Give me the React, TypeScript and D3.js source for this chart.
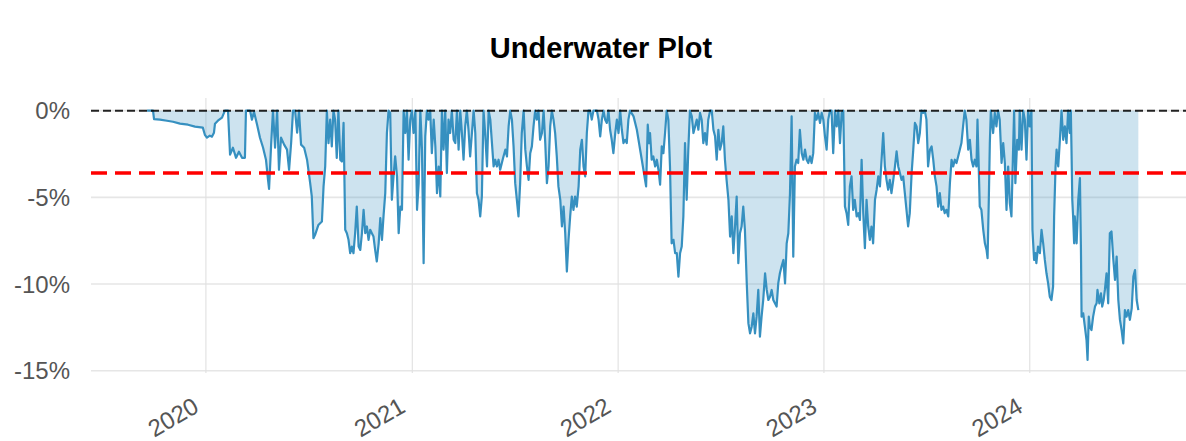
import React from "react";
import * as d3 from "d3";

// ---- data: drawdown (%) by decimal year ----
const dd2019: [number, number][] = [
  [2019.714, 0], [2019.743, 0], [2019.748, -0.49], [2019.777, -0.52], [2019.811, -0.58], [2019.840, -0.64],
  [2019.874, -0.75], [2019.913, -0.81], [2019.947, -0.92], [2019.985, -0.98], [2019.995, -1.39],
];
const dd2020: [number, number][] = [
  [2020.005, -1.56], [2020.019, -1.44], [2020.029, -1.5], [2020.039, -1.27], [2020.044, -0.75], [2020.058, -0.58],
  [2020.078, -0.4], [2020.092, 0], [2020.107, 0], [2020.117, -2.54], [2020.131, -2.14], [2020.146, -2.72],
  [2020.16, -2.37], [2020.175, -2.72], [2020.189, -2.72], [2020.194, 0], [2020.214, 0], [2020.223, -0.52],
  [2020.233, -0.06], [2020.248, -0.81], [2020.262, -1.56], [2020.277, -2.14], [2020.291, -2.83], [2020.301, -3.99],
  [2020.306, -4.51], [2020.316, -1.96], [2020.325, 0], [2020.335, -2.14], [2020.345, 0], [2020.354, -3.41],
  [2020.364, -1.56], [2020.379, -1.96], [2020.393, -2.25], [2020.403, -3.41], [2020.413, -1.85], [2020.422, 0],
  [2020.432, 0], [2020.442, -1.27], [2020.451, 0], [2020.461, -1.96], [2020.476, -2.14], [2020.49, -2.83],
  [2020.505, -4.16], [2020.513, -4.95], [2020.521, -7.36], [2020.529, -7.16], [2020.545, -6.59], [2020.562, -6.39],
  [2020.57, -4.37], [2020.578, -3.22], [2020.586, 0], [2020.594, -1.87], [2020.602, -0.52], [2020.61, -2.06],
  [2020.618, 0], [2020.626, -0.52], [2020.634, -2.73], [2020.642, 0], [2020.651, -2.83], [2020.659, -2.93],
  [2020.667, -0.71], [2020.675, -6.87], [2020.683, -7.07], [2020.691, -7.45], [2020.699, -8.22], [2020.707, -7.84],
  [2020.715, -8.22], [2020.723, -7.07], [2020.731, -5.53], [2020.74, -7.84], [2020.748, -8.03], [2020.756, -7.07],
  [2020.764, -5.72], [2020.772, -7.07], [2020.78, -6.68], [2020.788, -7.45], [2020.796, -6.87], [2020.804, -7.07],
  [2020.812, -7.26], [2020.82, -8.03], [2020.828, -8.7], [2020.837, -7.65], [2020.845, -6.2], [2020.853, -7.45],
  [2020.861, -6.01], [2020.869, -4.76], [2020.877, -1.29], [2020.885, 0], [2020.893, -0.13], [2020.901, -5.14],
  [2020.909, -3.79], [2020.917, -2.64], [2020.926, -3.79], [2020.934, -7.07], [2020.942, -5.53], [2020.95, -5.72],
  [2020.958, 0], [2020.966, -1.29], [2020.974, 0], [2020.982, -2.83], [2020.99, -0.52], [2020.998, 0],
];
const dd2021: [number, number][] = [
  [2021.006, -1.29], [2021.015, 0], [2021.023, -5.72], [2021.031, -4.18], [2021.039, 0], [2021.047, -2.25],
  [2021.055, -8.8], [2021.063, -1.48], [2021.071, 0], [2021.079, -0.52], [2021.087, 0], [2021.095, -2.45],
  [2021.104, -0.52], [2021.112, -2.06], [2021.12, -4.76], [2021.128, -3.22], [2021.136, -4.95], [2021.144, 0],
  [2021.152, -2.25], [2021.16, 0], [2021.168, -3.6], [2021.176, -0.52], [2021.184, -1.29], [2021.192, 0],
  [2021.201, -1.68], [2021.209, -1.87], [2021.217, 0], [2021.225, -2.25], [2021.233, 0], [2021.241, -1.29],
  [2021.249, -2.83], [2021.257, -0.91], [2021.265, 0], [2021.273, -1.1], [2021.281, -2.64], [2021.298, 0],
  [2021.306, -1.29], [2021.314, -4.76], [2021.322, -5.14], [2021.33, -6.1], [2021.338, -4.95], [2021.346, 0],
  [2021.354, -1.29], [2021.363, -3.22], [2021.371, 0], [2021.379, -0.52], [2021.387, -1.87], [2021.395, -3.22],
  [2021.403, -2.83], [2021.411, -3.22], [2021.419, -2.83], [2021.427, -3.41], [2021.435, -3.02], [2021.443, -2.64],
  [2021.452, -2.25], [2021.46, -2.64], [2021.468, -0.91], [2021.476, 0], [2021.484, -0.52], [2021.492, -2.06],
  [2021.5, -4.18], [2021.508, -5.14], [2021.516, -6.1], [2021.524, -4.18], [2021.532, -1.29], [2021.541, 0],
  [2021.549, -2.25], [2021.557, -3.22], [2021.565, -3.99], [2021.573, -2.45], [2021.581, -2.06], [2021.589, -0.91],
  [2021.597, 0], [2021.605, -0.52], [2021.613, 0], [2021.621, -1.68], [2021.63, -1.29], [2021.638, 0],
  [2021.646, -1.87], [2021.654, -4.18], [2021.662, -3.22], [2021.67, -0.91], [2021.678, 0], [2021.686, -0.52],
  [2021.694, -1.29], [2021.702, -2.64], [2021.71, -4.37], [2021.719, -5.14], [2021.727, -6.68], [2021.735, -5.53],
  [2021.743, -7.07], [2021.751, -9.28], [2021.759, -7.45], [2021.767, -6.1], [2021.775, -4.95], [2021.783, -5.72],
  [2021.791, -4.95], [2021.799, -5.53], [2021.808, -4.37], [2021.816, -2.25], [2021.824, -1.68], [2021.832, -3.22],
  [2021.84, -3.79], [2021.848, -1.29], [2021.856, 0], [2021.864, 0], [2021.872, -0.52], [2021.88, 0],
  [2021.897, 0], [2021.905, -0.52], [2021.913, -1.48], [2021.921, -0.52], [2021.929, 0], [2021.937, -0.52],
  [2021.945, -0.71], [2021.953, 0], [2021.961, -1.1], [2021.969, -1.68], [2021.977, -2.45], [2021.986, -1.29],
  [2021.994, -0.52],
];
const dd2022: [number, number][] = [
  [2022.002, -1.29], [2022.01, 0], [2022.018, -1.1], [2022.026, -1.87], [2022.034, -1.68], [2022.042, -1.87],
  [2022.05, -0.52], [2022.058, 0], [2022.075, -0.33], [2022.091, -1.1], [2022.099, -1.68], [2022.115, -2.83],
  [2022.128, -3.79], [2022.136, -4.37], [2022.144, -0.81], [2022.15, -1.87], [2022.155, -1.29], [2022.163, -2.83],
  [2022.171, -2.64], [2022.18, -3.22], [2022.188, -2.83], [2022.196, -3.41], [2022.204, -4.27], [2022.212, -2.06],
  [2022.22, -2.45], [2022.228, -1.29], [2022.236, 0], [2022.244, -0.52], [2022.252, -3.22], [2022.26, -7.65],
  [2022.269, -7.45], [2022.277, -8.22], [2022.285, -8.22], [2022.293, -9.57], [2022.301, -8.22], [2022.309, -7.84],
  [2022.317, -6.1], [2022.325, -1.87], [2022.333, -5.14], [2022.341, -2.25], [2022.349, 0], [2022.358, -0.33],
  [2022.366, -1.29], [2022.374, -0.91], [2022.382, -0.52], [2022.39, -1.1], [2022.398, -0.13], [2022.406, -0.52],
  [2022.414, -1.87], [2022.422, -1.29], [2022.43, -1.96], [2022.438, -0.52], [2022.447, 0], [2022.455, 0],
  [2022.463, -1.1], [2022.471, -1.48], [2022.479, -2.83], [2022.487, -1.1], [2022.495, -2.25], [2022.503, -1.87],
  [2022.511, -0.91], [2022.519, -2.83], [2022.527, -3.99], [2022.536, -5.14], [2022.544, -7.26], [2022.552, -6.1],
  [2022.56, -8.22], [2022.568, -6.68], [2022.576, -4.95], [2022.584, -8.8], [2022.592, -7.07], [2022.6, -6.68],
  [2022.608, -5.53], [2022.616, -6.87], [2022.625, -9.96], [2022.633, -12.27], [2022.641, -12.84], [2022.649, -12.46],
  [2022.657, -11.69], [2022.665, -12.84], [2022.673, -11.88], [2022.681, -10.34], [2022.689, -13.04], [2022.697, -11.88],
  [2022.705, -10.92], [2022.714, -9.38], [2022.722, -10.34], [2022.73, -10.92], [2022.738, -10.73], [2022.746, -10.34],
  [2022.754, -10.92], [2022.762, -11.11], [2022.77, -11.3], [2022.778, -9.96], [2022.786, -9.38], [2022.794, -8.99],
  [2022.803, -8.61], [2022.811, -9.96], [2022.819, -7.65], [2022.827, -7.07], [2022.835, -4.76], [2022.843, -0.33],
  [2022.851, -8.42], [2022.859, -3.22], [2022.867, -2.83], [2022.875, -3.02], [2022.883, -1.1], [2022.892, -2.45],
  [2022.9, -2.83], [2022.908, -2.25], [2022.916, -2.83], [2022.924, -3.02], [2022.932, -2.64], [2022.94, -3.02],
  [2022.948, -2.45], [2022.956, -0.13], [2022.964, -0.52], [2022.972, -0.13], [2022.981, -0.71], [2022.989, -0.13],
  [2022.997, -0.52],
];
const dd2023: [number, number][] = [
  [2023.005, -1.48], [2023.013, -2.25], [2023.021, -0.52], [2023.029, 0], [2023.037, 0], [2023.045, -2.45],
  [2023.054, 0], [2023.062, -0.91], [2023.07, 0], [2023.078, -1.87], [2023.086, -0.13], [2023.094, 0],
  [2023.102, -5.53], [2023.11, -5.91], [2023.118, -6.59], [2023.126, -4.37], [2023.134, -3.79], [2023.142, -5.72],
  [2023.15, -5.14], [2023.159, -6.1], [2023.167, -5.91], [2023.175, -6.3], [2023.183, -2.83], [2023.191, -5.91],
  [2023.199, -7.93], [2023.207, -5.14], [2023.215, -6.68], [2023.223, -7.45], [2023.231, -6.68], [2023.239, -7.65],
  [2023.248, -5.14], [2023.256, -4.56], [2023.264, -3.79], [2023.272, -4.37], [2023.28, -2.83], [2023.288, -1.29],
  [2023.296, -3.22], [2023.304, -3.99], [2023.312, -4.56], [2023.32, -3.99], [2023.328, -4.76], [2023.337, -3.99],
  [2023.345, -3.22], [2023.353, -2.35], [2023.361, -3.22], [2023.369, -3.6], [2023.377, -3.99], [2023.385, -3.79],
  [2023.393, -4.76], [2023.401, -5.72], [2023.409, -6.68], [2023.417, -5.91], [2023.426, -3.6], [2023.434, -2.25],
  [2023.442, -0.71], [2023.45, -0.91], [2023.458, -1.87], [2023.466, -1.29], [2023.474, 0], [2023.482, -0.13],
  [2023.49, 0], [2023.498, -0.52], [2023.506, -3.22], [2023.515, -2.25], [2023.523, -2.06], [2023.531, -2.83],
  [2023.539, -3.79], [2023.547, -4.37], [2023.555, -5.53], [2023.563, -4.76], [2023.571, -5.72], [2023.579, -5.53],
  [2023.587, -5.91], [2023.595, -5.72], [2023.604, -6.1], [2023.612, -4.18], [2023.62, -2.83], [2023.628, -3.22],
  [2023.636, -2.83], [2023.644, -3.02], [2023.652, -2.64], [2023.66, -2.25], [2023.668, -1.87], [2023.676, -0.91],
  [2023.684, 0], [2023.692, -0.52], [2023.701, -2.25], [2023.709, -1.68], [2023.717, -2.83], [2023.725, -3.22],
  [2023.733, -2.83], [2023.741, -3.22], [2023.746, -0.52], [2023.752, -3.22], [2023.757, -5.53], [2023.765, -5.72],
  [2023.774, -6.87], [2023.782, -7.65], [2023.79, -8.03], [2023.795, -8.51], [2023.801, -5.14], [2023.806, -1.87],
  [2023.811, 0], [2023.822, -1.29], [2023.83, -0.13], [2023.838, -0.91], [2023.846, 0], [2023.854, -0.52],
  [2023.863, -3.02], [2023.871, -1.87], [2023.879, -3.02], [2023.887, -5.72], [2023.895, -3.22], [2023.903, -5.33],
  [2023.911, -6.1], [2023.919, -2.25], [2023.924, 0], [2023.93, -4.18], [2023.939, -1.68], [2023.947, -2.25],
  [2023.951, 0], [2023.96, -2.25], [2023.968, 0], [2023.976, -0.52], [2023.984, -2.83], [2023.992, 0],
];
const dd2024: [number, number][] = [
  [2024.0, -0.91], [2024.008, 0], [2024.013, -6.87], [2024.021, -8.61], [2024.027, -8.22], [2024.032, -8.8],
  [2024.04, -7.84], [2024.049, -8.22], [2024.057, -6.87], [2024.065, -7.65], [2024.073, -8.61], [2024.081, -9.38],
  [2024.089, -9.96], [2024.097, -10.73], [2024.105, -10.92], [2024.113, -10.15], [2024.118, -6.1], [2024.125, -3.22],
  [2024.13, -2.25], [2024.138, -3.22], [2024.146, -1.68], [2024.154, 0], [2024.162, -1.68], [2024.17, -0.91],
  [2024.178, -1.87], [2024.186, 0], [2024.194, -1.29], [2024.199, 0], [2024.202, -2.06], [2024.206, -5.14],
  [2024.21, -6.1], [2024.215, -7.65], [2024.218, -6.1], [2024.227, -7.65], [2024.235, -5.14], [2024.243, -3.89],
  [2024.248, -8.03], [2024.251, -11.88], [2024.259, -11.69], [2024.267, -12.46], [2024.275, -13.23], [2024.28, -14.38],
  [2024.286, -11.88], [2024.291, -12.46], [2024.299, -12.65], [2024.307, -11.88], [2024.316, -11.3], [2024.324, -11.11],
  [2024.328, -10.34], [2024.337, -11.11], [2024.345, -10.53], [2024.351, -11.3], [2024.358, -10.92], [2024.364, -10.34],
  [2024.372, -9.38], [2024.38, -11.11], [2024.388, -7.07], [2024.396, -6.97], [2024.405, -8.61], [2024.413, -9.76],
  [2024.421, -8.42], [2024.429, -10.92], [2024.437, -12.07], [2024.445, -12.65], [2024.453, -13.42], [2024.461, -11.5],
  [2024.469, -11.88], [2024.477, -11.5], [2024.485, -12.07], [2024.494, -11.4], [2024.502, -9.57], [2024.51, -9.19],
  [2024.518, -10.92], [2024.526, -11.5],
];

const meanDrawdown = -3.6;
const yTicks = [0, -5, -10, -15];
const xTickYears = [2020, 2021, 2022, 2023, 2024];
const xDomainYears = [2019.4417, 2024.757];
const yDomain = [0.73, -15.13];
const title = "Underwater Plot";

const toDate = (t: number) => {
  const y = Math.floor(t);
  const a = new Date(y, 0, 1).getTime();
  const b = new Date(y + 1, 0, 1).getTime();
  return new Date(a + (t - y) * (b - a));
};

const W = 1186;
const H = 441;
const M = { left: 91, right: 1186, top: 98, bottom: 373 };
const FONT = "'Liberation Sans', Arial, Helvetica, sans-serif";
const BLUE = "#3690c0";

export default function App() {
  const data = [...dd2019, ...dd2020, ...dd2021, ...dd2022, ...dd2023, ...dd2024].map(
    ([t, v]) => ({ date: toDate(t), v })
  );
  const x = d3.scaleTime().domain(xDomainYears.map(toDate)).range([M.left, M.right]);
  const y = d3.scaleLinear().domain(yDomain).range([M.top, M.bottom]);

  const area = d3
    .area<{ date: Date; v: number }>()
    .x((d) => x(d.date))
    .y0(y(0))
    .y1((d) => y(d.v));
  const line = d3
    .line<{ date: Date; v: number }>()
    .x((d) => x(d.date))
    .y((d) => y(d.v));

  return (
    <svg width={W} height={H} style={{ position: "absolute", left: 0, top: 0, background: "#fff" }} fontFamily={FONT}>
      <rect x={0} y={0} width={W} height={H} fill="#fff" />
      <text x={601} y={58} textAnchor="middle" fontSize={29} fontWeight="bold" fill="#000">
        {title}
      </text>
      {/* grid */}
      {yTicks.map((t) => (
        <line key={"gy" + t} x1={M.left} x2={M.right} y1={y(t)} y2={y(t)} stroke="#e6e6e6" strokeWidth={1.6} />
      ))}
      {xTickYears.map((yr) => (
        <line key={"gx" + yr} x1={x(toDate(yr))} x2={x(toDate(yr))} y1={M.top} y2={M.bottom} stroke="#e0e0e0" strokeWidth={1.1} />
      ))}
      {/* series */}
      <path d={area(data) || ""} fill={BLUE} fillOpacity={0.25} stroke="none" />
      <path d={line(data) || ""} fill="none" stroke={BLUE} strokeWidth={2.2} strokeLinejoin="round" />
      {/* mean */}
      <line x1={M.left} x2={M.right} y1={y(meanDrawdown)} y2={y(meanDrawdown)} stroke="#ff0000" strokeWidth={3.5} strokeDasharray="16,8" />
      {/* zero */}
      <line x1={M.left} x2={M.right} y1={y(0)} y2={y(0)} stroke="#000" strokeWidth={2} strokeDasharray="8,4" opacity={0.85} />
      {/* y labels */}
      {yTicks.map((t) => (
        <text key={"ly" + t} x={70} y={y(t)} dy="0.36em" textAnchor="end" fontSize={24} fill="#555">
          {`${t}%`}
        </text>
      ))}
      {/* x labels */}
      {xTickYears.map((yr) => (
        <text
          key={"lx" + yr}
          transform={`translate(${x(toDate(yr)) - 5.5},${411}) rotate(-30)`}
          textAnchor="end"
          fontSize={24}
          fill="#555"
        >
          {yr}
        </text>
      ))}
    </svg>
  );
}
